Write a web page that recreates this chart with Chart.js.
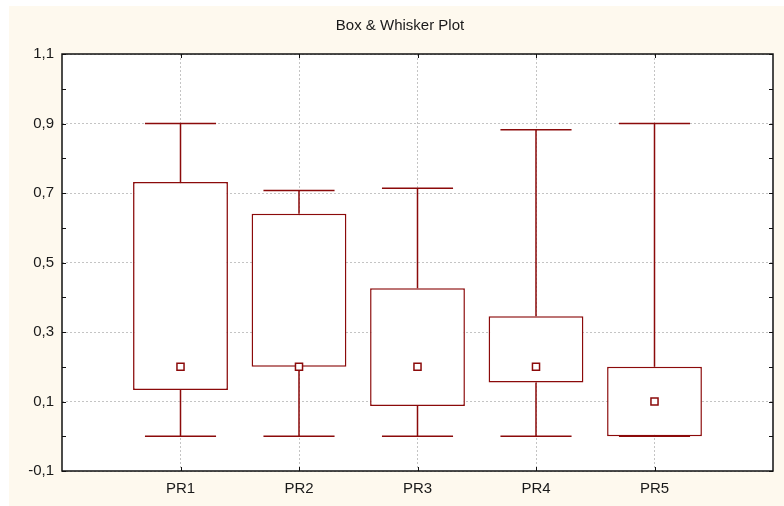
<html>
<head>
  <script src="https://cdn.jsdelivr.net/npm/chart.js@4.4.0/dist/chart.umd.min.js"></script>
  <style>
    body { margin: 0; background: #ffffff; }
    #wrap {
      position: absolute;
      left: 9px;
      top: 6px;
      width: 775px;
      height: 500px;
      background: #fef9ee;
    }
  </style>
</head>
<body>
  <div id="wrap">
    <canvas id="box-chart" width="775" height="500"></canvas>
  </div>

  <script>
    // statistics per group
    var categories  = ['PR1', 'PR2', 'PR3', 'PR4', 'PR5'];
    var whiskerLow  = [0.0, 0.0, 0.0, 0.0, 0.0];
    var boxLow      = [0.133, 0.2, 0.087, 0.155, 0.0];
    var medians     = [0.2, 0.2, 0.2, 0.2, 0.1];
    var boxHigh     = [0.732, 0.64, 0.426, 0.345, 0.2];
    var whiskerHigh = [0.9, 0.707, 0.714, 0.882, 0.9];
    var yTicks      = [-0.1, 0.1, 0.3, 0.5, 0.7, 0.9, 1.1];

    var red = '#8b0a0a';
    var capHalf = 0.3;   // half width of whisker caps, in category units
    var font = 'Liberation Sans, Arial, sans-serif';

    var boxes = [];
    var whiskers = [];
    var mids = [];
    for (var i = 0; i < categories.length; i++) {
      var x = i + 1;
      boxes.push({x: x, y: [boxLow[i], boxHigh[i]]});
      mids.push({x: x, y: medians[i]});
      // upper whisker + cap
      whiskers.push({x: x, y: boxHigh[i]}, {x: x, y: whiskerHigh[i]}, {x: x, y: null});
      whiskers.push({x: x - capHalf, y: whiskerHigh[i]}, {x: x + capHalf, y: whiskerHigh[i]}, {x: x, y: null});
      // lower whisker + cap
      whiskers.push({x: x, y: boxLow[i]}, {x: x, y: whiskerLow[i]}, {x: x, y: null});
      whiskers.push({x: x - capHalf, y: whiskerLow[i]}, {x: x + capHalf, y: whiskerLow[i]}, {x: x, y: null});
    }

    // white plot area, then frame with inward ticks on top
    var plotFrame = {
      id: 'plotFrame',
      beforeDraw: function (chart) {
        var a = chart.chartArea, ctx = chart.ctx;
        ctx.save();
        ctx.fillStyle = '#ffffff';
        ctx.fillRect(a.left, a.top, a.right - a.left, a.bottom - a.top);
        ctx.restore();
      },
      afterDraw: function (chart) {
        var a = chart.chartArea, ctx = chart.ctx;
        var ys = chart.scales.y, xs = chart.scales.x;
        ctx.save();
        ctx.strokeStyle = '#111111';
        ctx.lineWidth = 1;
        ctx.beginPath();
        for (var k = 0; k <= 12; k++) {
          var py = Math.round(ys.getPixelForValue(-0.1 + k * 0.1)) + 0.5;
          ctx.moveTo(a.left, py); ctx.lineTo(a.left + 4, py);
          ctx.moveTo(a.right, py); ctx.lineTo(a.right - 4, py);
        }
        for (var j = 1; j <= categories.length; j++) {
          var px = Math.round(xs.getPixelForValue(j)) + 0.5;
          ctx.moveTo(px, a.top); ctx.lineTo(px, a.top + 4);
          ctx.moveTo(px, a.bottom); ctx.lineTo(px, a.bottom - 4);
        }
        ctx.stroke();
        ctx.lineWidth = 1.5;
        ctx.strokeRect(a.left, a.top, a.right - a.left, a.bottom - a.top);
        ctx.restore();
      }
    };

    new Chart(document.getElementById('box-chart'), {
      type: 'bar',
      data: {
        datasets: [
          {
            type: 'scatter',
            data: mids,
            order: 0,
            pointStyle: 'rect',
            pointRadius: 5,
            pointBackgroundColor: '#ffffff',
            pointBorderColor: red,
            pointBorderWidth: 1.5
          },
          {
            type: 'line',
            data: whiskers,
            order: 1,
            borderColor: red,
            borderWidth: 1.5,
            pointRadius: 0,
            spanGaps: false,
            tension: 0
          },
          {
            type: 'bar',
            data: boxes,
            order: 2,
            backgroundColor: '#ffffff',
            borderColor: red,
            borderWidth: 1.5,
            borderSkipped: false,
            categoryPercentage: 1,
            barPercentage: 0.8
          }
        ]
      },
      options: {
        responsive: false,
        animation: false,
        events: [],
        layout: { padding: { left: 18, right: 11, top: 0, bottom: 0 } },
        plugins: {
          legend: { display: false },
          tooltip: { enabled: false },
          title: {
            display: true,
            text: 'Box & Whisker Plot',
            color: '#1a1a1a',
            font: { family: font, size: 15, weight: 'normal' },
            padding: { top: 11, bottom: 19 }
          }
        },
        scales: {
          x: {
            type: 'linear',
            min: 0,
            max: 6,
            offset: false,
            afterBuildTicks: function (s) {
              s.ticks = categories.map(function (c, i) { return {value: i + 1}; });
            },
            afterFit: function (s) { s.height = 35; },
            ticks: {
              autoSkip: false,
              maxRotation: 0,
              padding: 9,
              color: '#1a1a1a',
              font: { family: font, size: 15 },
              callback: function (v) { return categories[v - 1]; }
            },
            grid: { color: '#c4c4c4', lineWidth: 1, drawTicks: false, offset: false },
            border: { display: false, dash: [2, 2] }
          },
          y: {
            min: -0.1,
            max: 1.1,
            afterBuildTicks: function (s) {
              s.ticks = yTicks.map(function (v) { return {value: v}; });
            },
            afterFit: function (s) { s.width = 35; },
            ticks: {
              padding: 8,
              color: '#1a1a1a',
              font: { family: font, size: 15 },
              callback: function (v) { return v.toFixed(1).replace('.', ','); }
            },
            grid: { color: '#c4c4c4', lineWidth: 1, drawTicks: false },
            border: { display: false, dash: [2, 2] }
          }
        }
      },
      plugins: [plotFrame]
    });
  </script>
</body>
</html>
